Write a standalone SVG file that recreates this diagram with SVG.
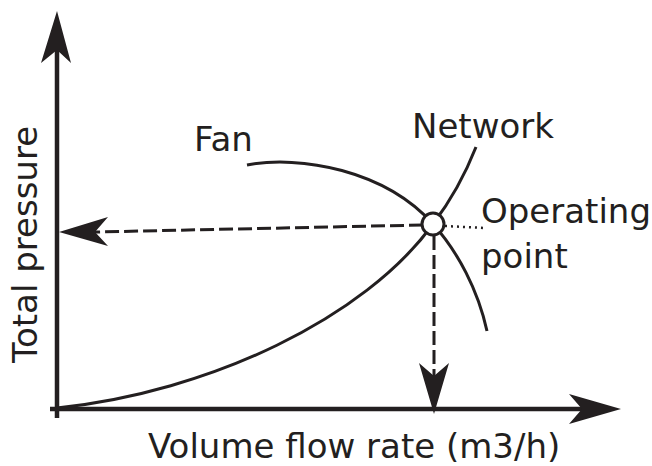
<svg xmlns="http://www.w3.org/2000/svg" width="652" height="466" viewBox="0 0 652 466">
<style>
.t{font-family:"DejaVu Sans",sans-serif;font-size:34px;fill:#231f20}
.ax{stroke:#231f20;stroke-width:4.5;fill:none}
.cv{stroke:#231f20;stroke-width:3;fill:none}
.ds{stroke:#231f20;stroke-width:3;fill:none;stroke-dasharray:14 5}
.dt{stroke:#231f20;stroke-width:2.5;fill:none;stroke-dasharray:2 4}
.ah{fill:#231f20}
</style>
<rect width="652" height="466" fill="#fff"/>
<g id="connectors">
<line class="ax" x1="57" y1="418" x2="57" y2="50"/>
<polygon class="ah" points="57,11 71,63 57,50 41,63"/>
<line class="ax" x1="50" y1="409" x2="585" y2="409"/>
<polygon class="ah" points="621,409 569,424 582,409 569,394"/>
<path class="ds" d="M423,225 L95,232"/>
<polygon class="ah" points="59,232 108,217 95,232 108,246"/>
<path class="ds" d="M434,236 L434,377"/>
<polygon class="ah" points="434,414 419,363 434,376 449,363"/>
<path class="dt" d="M445,226 L485,228"/>
</g>
<g id="fan-curve">
<path class="cv" d="M247,165 C300,155 385,170 433,224 C458,252 478,290 487,331"/>
</g>
<g id="network-curve">
<path class="cv" d="M57,408 C210,392 365,318 433,224 C450,201.6 465,175 476,147"/>
</g>
<g id="operating-point">
<circle cx="433" cy="224" r="11" fill="#fff" stroke="#231f20" stroke-width="3"/>
</g>
<g id="labels">
<text class="t" x="194" y="151">Fan</text>
<text class="t" x="412" y="138">Network</text>
<text class="t" x="481" y="223">Operating</text>
<text class="t" x="481" y="268">point</text>
<text class="t" x="148" y="458">Volume flow rate (m3/h)</text>
<text class="t" transform="translate(37,363) rotate(-90)">Total pressure</text>
</g>
</svg>
